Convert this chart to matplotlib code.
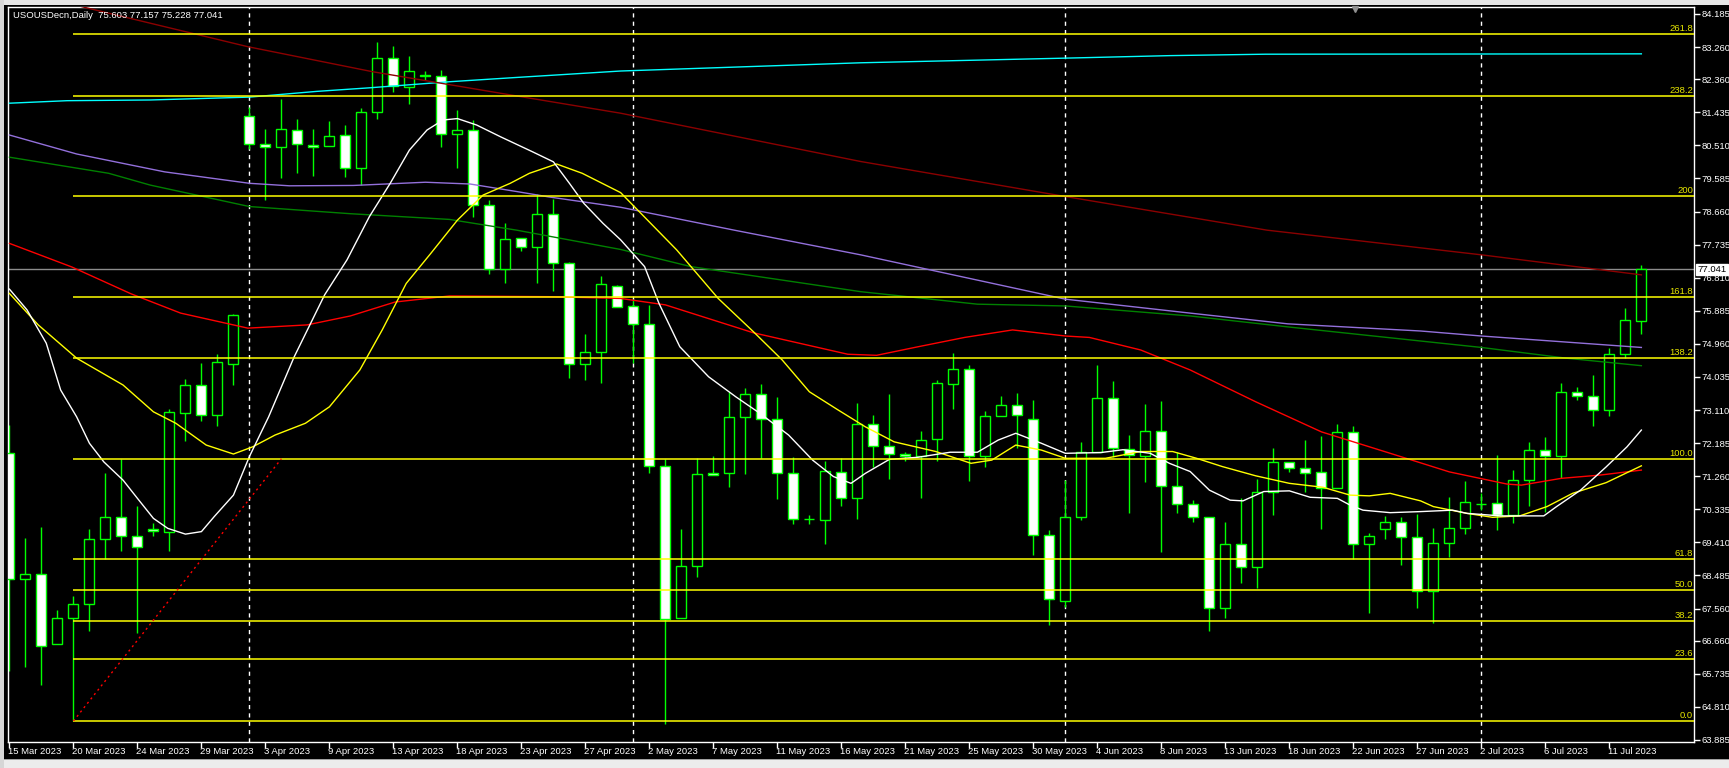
import matplotlib
matplotlib.use("Agg")
import matplotlib.pyplot as plt
from matplotlib.patches import Rectangle
from matplotlib.transforms import blended_transform_factory
import numpy as np

# ── 데이터 ───────────────────────────────────────────
OPEN = [71.90, 68.38, 68.52, 66.56, 67.29, 67.68, 69.49, 70.11, 69.59, 69.78,
        69.71, 73.04, 73.80, 72.96, 74.41, 81.32, 80.54, 80.46, 80.93, 80.53,
        80.49, 80.79, 79.87, 81.44, 82.95, 82.14, 82.44, 82.46, 80.82, 80.93,
        78.84, 77.06, 77.91, 77.67, 78.58, 77.21, 74.39, 74.72, 76.57, 76.01,
        75.51, 71.54, 67.29, 68.74, 71.34, 71.34, 72.91, 73.55, 72.85, 71.34,
        70.05, 70.03, 71.37, 70.64, 72.71, 72.10, 71.88, 71.82, 72.29, 73.83,
        74.26, 71.83, 72.93, 73.24, 72.87, 69.61, 67.78, 70.13, 71.93, 73.44,
        72.03, 71.82, 72.52, 70.98, 70.47, 70.11, 67.57, 69.36, 68.71, 70.81,
        71.67, 71.48, 71.37, 70.92, 72.49, 69.36, 69.78, 69.99, 69.55, 68.04,
        69.40, 69.80, 70.47, 70.50, 70.17, 71.15, 71.98, 71.82, 73.61, 73.49,
        73.10, 74.67, 75.603]
HIGH = [72.69, 69.52, 69.83, 67.52, 67.91, 69.78, 71.34, 71.73, 70.43, 69.96,
        73.13, 73.98, 74.42, 74.67, 75.80, 81.58, 80.97, 81.80, 81.25, 80.97,
        81.19, 81.07, 81.55, 83.39, 83.28, 83.01, 82.59, 82.62, 81.50, 81.22,
        78.98, 78.33, 77.92, 79.14, 79.00, 77.25, 75.24, 76.86, 76.61, 76.21,
        76.05, 71.73, 69.78, 71.76, 71.82, 73.61, 73.73, 73.84, 73.48, 71.79,
        70.18, 71.69, 71.76, 73.30, 72.97, 73.55, 71.94, 72.52, 73.95, 74.70,
        74.37, 73.08, 73.51, 73.58, 73.39, 69.76, 71.15, 72.21, 74.37, 73.92,
        72.41, 73.28, 73.36, 71.93, 70.59, 70.12, 69.98, 70.64, 71.18, 72.05,
        71.67, 72.27, 72.38, 72.72, 72.66, 69.66, 70.15, 70.11, 70.20, 69.80,
        70.68, 71.12, 70.80, 71.85, 71.43, 72.21, 72.36, 73.87, 73.75, 74.09,
        74.85, 75.96, 77.157]
LOW = [65.82, 65.92, 65.43, 66.56, 64.41, 66.94, 68.94, 69.18, 66.88, 69.59,
       69.18, 72.25, 72.81, 72.67, 73.82, 80.40, 78.99, 79.61, 79.75, 79.66,
       80.49, 79.63, 79.40, 81.24, 82.00, 81.66, 82.33, 80.46, 79.89, 78.52,
       76.91, 76.67, 77.57, 76.67, 76.45, 74.01, 73.96, 73.87, 75.98, 74.43,
       71.36, 64.33, 67.29, 68.45, 71.29, 70.97, 71.31, 71.78, 70.63, 69.92,
       69.92, 69.37, 70.43, 70.05, 71.52, 71.17, 71.68, 70.66, 71.69, 73.13,
       71.12, 71.52, 72.93, 72.06, 69.06, 67.11, 67.59, 70.03, 71.93, 71.80,
       70.24, 71.11, 69.15, 70.24, 69.99, 66.94, 67.30, 68.27, 68.14, 70.18,
       71.39, 70.83, 69.78, 70.92, 68.94, 67.43, 69.51, 68.77, 67.58, 67.15,
       69.01, 69.64, 70.31, 69.76, 69.96, 70.43, 70.27, 71.20, 73.40, 72.67,
       72.95, 74.56, 75.228]
CLOSE = [68.38, 68.52, 66.52, 67.29, 67.68, 69.49, 70.11, 69.59, 69.27, 69.72,
         73.05, 73.80, 72.96, 74.45, 75.76, 80.54, 80.46, 80.96, 80.54, 80.47,
         80.78, 79.87, 81.44, 82.95, 82.17, 82.58, 82.47, 80.82, 80.93, 78.84,
         77.06, 77.89, 77.68, 78.58, 77.21, 74.39, 74.72, 76.63, 76.00, 75.51,
         71.54, 67.27, 68.74, 71.31, 71.29, 72.91, 73.55, 72.85, 71.34, 70.05,
         70.07, 71.40, 70.64, 72.71, 72.10, 71.87, 71.82, 72.26, 73.86, 74.26,
         71.83, 72.94, 73.24, 72.96, 69.61, 67.82, 70.13, 71.94, 73.44, 72.04,
         71.84, 72.52, 70.98, 70.47, 70.11, 67.57, 69.36, 68.71, 70.81, 71.65,
         71.48, 71.34, 70.92, 72.49, 69.36, 69.58, 69.99, 69.55, 68.04, 69.38,
         69.80, 70.53, 70.49, 70.17, 71.15, 71.98, 71.82, 73.61, 73.49, 73.10,
         74.67, 75.62, 77.041]

DATE_LABELS = ["15 Mar 2023", "20 Mar 2023", "24 Mar 2023", "29 Mar 2023", "3 Apr 2023",
               "9 Apr 2023", "13 Apr 2023", "18 Apr 2023", "23 Apr 2023", "27 Apr 2023",
               "2 May 2023", "7 May 2023", "11 May 2023", "16 May 2023", "21 May 2023",
               "25 May 2023", "30 May 2023", "4 Jun 2023", "8 Jun 2023", "13 Jun 2023",
               "18 Jun 2023", "22 Jun 2023", "27 Jun 2023", "2 Jul 2023", "6 Jul 2023",
               "11 Jul 2023"]
DATE_BARS = list(range(0, 101, 4))
MONTH_SEP_BARS = [15, 39, 66, 92]

PRICE_TICKS = [84.185, 83.260, 82.360, 81.435, 80.510, 79.585, 78.660, 77.735, 76.810,
               75.885, 74.960, 74.035, 73.110, 72.185, 71.260, 70.335, 69.410, 68.485,
               67.560, 66.660, 65.735, 64.810, 63.885]

# 이동평균선 (bar 위치, 가격)
CYAN_X = [0, 3.6, 8.8, 15, 19.2, 22.5, 27.5, 31.7, 38.2, 53.2, 66, 72.5, 78.5, 102]
CYAN_Y = [81.69, 81.76, 81.78, 81.86, 82.02, 82.12, 82.29, 82.41, 82.59, 82.82, 82.95,
          83.02, 83.06, 83.07]
MAROON_X = [0, 7.1, 14.9, 22.7, 32, 38.2, 53.2, 66, 78.6, 92, 102]
MAROON_Y = [84.88, 84.11, 83.27, 82.57, 81.87, 81.41, 80.06, 79.08, 78.14, 77.45, 76.89]
PURPLE_X = [0, 4.2, 9.7, 15, 17.5, 21.5, 26, 28.8, 31.7, 33.7, 38.2, 45.3, 53.2, 66,
            73.8, 79.9, 88.2, 92, 102]
PURPLE_Y = [80.80, 80.27, 79.77, 79.45, 79.38, 79.39, 79.48, 79.43, 79.22, 79.07, 78.78,
            78.14, 77.45, 76.21, 75.82, 75.52, 75.32, 75.18, 74.86]
DKGREEN_X = [0, 6.2, 8.8, 15, 21.3, 27.5, 31.7, 38.2, 42.6, 53.2, 60.5, 66, 73.8, 80,
             88.2, 92, 97.3, 102]
DKGREEN_Y = [80.18, 79.73, 79.40, 78.80, 78.60, 78.44, 78.14, 77.60, 77.12, 76.42, 76.07,
             76.02, 75.74, 75.43, 75.04, 74.86, 74.56, 74.35]
RED_X = [0, 3.9, 7.6, 10.7, 14.9, 18.6, 21.3, 24.1, 27.5, 33.7, 38.2, 41, 46.5, 52.4,
         54.2, 56.8, 59.7, 62.7, 66, 67.5, 70.7, 73.8, 77.9, 82, 86.3, 90, 93.6, 94.5,
         97, 99.4, 102]
RED_Y = [77.77, 77.11, 76.36, 75.82, 75.40, 75.49, 75.74, 76.13, 76.30, 76.28, 76.23,
         76.05, 75.27, 74.67, 74.64, 74.88, 75.14, 75.35, 75.18, 75.14, 74.79, 74.23,
         73.34, 72.50, 71.90, 71.38, 71.04, 71.01, 71.20, 71.29, 71.43]
YELLOW_X = [0, 1.8, 4.2, 7.1, 9, 10.4, 12.3, 14, 15.2, 16.6, 18.5, 20, 21.9, 23.3, 24.8,
            26.3, 28, 29.6, 31.3, 32.5, 34.2, 35.8, 38.2, 41.7, 44.3, 46.5, 48.3, 50,
            51.8, 53.5, 55.3, 57.9, 60.1, 61.4, 62.9, 64.5, 66, 68.5, 70.7, 72.7, 74.2,
            75.8, 77.9, 80, 82.1, 83.8, 85, 86.3, 88.2, 89, 91.1, 92.7, 94.4, 96.1, 97.7,
            99.8, 102]
YELLOW_Y = [76.37, 75.49, 74.56, 73.81, 73.06, 72.74, 72.13, 71.88, 72.08, 72.41, 72.74,
            73.20, 74.23, 75.35, 76.65, 77.47, 78.42, 79.12, 79.45, 79.73, 79.99, 79.73,
            79.19, 77.59, 76.23, 75.30, 74.51, 73.62, 73.11, 72.64, 72.22, 71.95, 71.62,
            71.71, 72.13, 71.99, 71.76, 71.76, 71.95, 71.95, 71.76, 71.53, 71.27, 71.06,
            70.95, 70.73, 70.71, 70.78, 70.57, 70.41, 70.22, 70.11, 70.15, 70.41, 70.78,
            71.08, 71.55]
WHITE_X = [0, 1.1, 2.3, 3.2, 4.2, 5, 5.9, 7.1, 8, 9, 9.9, 11, 12, 12.8, 14, 15, 16.2,
           17.8, 19.7, 21.1, 22.5, 23.8, 25, 26.1, 27.1, 28, 29.2, 30.7, 32.7, 34, 35,
           35.9, 37.1, 38.2, 39.7, 40.6, 41.9, 43.7, 45.4, 46.9, 48.7, 50.2, 51.5, 52.6,
           53.5, 55, 56.8, 58.8, 60.5, 61.8, 62.9, 64.5, 66, 68.2, 69.6, 71.3, 72.5, 73.8,
           75, 76.3, 77.1, 78.4, 80, 81.3, 83, 83.8, 84.6, 86.3, 88.2, 90.2, 91.1, 93.2,
           95.9, 96.7, 98.2, 99.8, 101.1, 102]
WHITE_Y = [76.49, 75.91, 74.98, 73.67, 72.92, 72.18, 71.66, 71.15, 70.64, 70.08, 69.80,
           69.64, 69.71, 70.13, 70.73, 71.81, 72.92, 74.60, 76.33, 77.31, 78.52, 79.45,
           80.38, 80.94, 81.22, 81.26, 81.08, 80.75, 80.33, 80.05, 79.45, 78.89, 78.33,
           77.87, 77.12, 76.09, 74.88, 74.04, 73.48, 73.02, 72.41, 71.71, 71.25, 71.06,
           71.34, 71.73, 71.79, 71.93, 71.93, 72.27, 72.46, 72.18, 71.90, 71.92, 72.00,
           71.90, 71.62, 71.39, 70.87, 70.59, 70.57, 70.83, 70.85, 70.67, 70.64, 70.45,
           70.31, 70.24, 70.27, 70.31, 70.22, 70.15, 70.15, 70.41, 70.87, 71.52, 72.08,
           72.55]

# 피보나치 (바 4의 저점 → 고점)
FIB_LOW, FIB_HIGH = 64.414, 71.749
FIB_START, FIB_END = 4, 17
FIB_LEVELS = [0.0, 23.6, 38.2, 50.0, 61.8, 100.0, 138.2, 161.8, 200.0, 238.2, 261.8]
FIB_TEXT = ["0.0", "23.6", "38.2", "50.0", "61.8", "100.0", "138.2", "161.8", "200",
            "238.2", "261.8"]

LAST_PRICE = 77.041
HEADER = "USOUSDecn,Daily  75.603 77.157 75.228 77.041"

# ── 스타일 ─────────────────────────────────────────────────
W, H, DPI = 1729, 768, 100
FS = 6.8
GREEN = "#00ff00"
plt.rcParams["font.family"] = ["Liberation Sans", "DejaVu Sans"]

fig = plt.figure(figsize=(W / DPI, H / DPI), dpi=DPI, facecolor="black")
ax = fig.add_axes([8 / W, 26 / H, (1694 - 8) / W, (742 - 7) / H])
ax.set_facecolor("black")
for s in ax.spines.values():
    s.set_color("white"); s.set_linewidth(1.0)

n = len(OPEN)
x = np.arange(n)
o, h, l, c = map(np.asarray, (OPEN, HIGH, LOW, CLOSE))
bottom = np.minimum(o, c)
height = np.maximum(np.abs(c - o), 0.012)
face = np.where(c >= o, "black", "white")

# 심지 + 몸통
ax.vlines(x, l, h, color=GREEN, lw=1.0, zorder=2)
ax.bar(x, height, bottom=bottom, width=0.62, facecolor=face, edgecolor=GREEN,
       linewidth=1.0, zorder=3)

# 이동평균
for xs, ys, col in [(CYAN_X, CYAN_Y, "#00ffff"), (MAROON_X, MAROON_Y, "#8b0000"),
                    (PURPLE_X, PURPLE_Y, "#9370db"), (DKGREEN_X, DKGREEN_Y, "#008000"),
                    (RED_X, RED_Y, "#ff0000"), (YELLOW_X, YELLOW_Y, "#ffff00"),
                    (WHITE_X, WHITE_Y, "#ffffff")]:
    ax.plot(xs, ys, color=col, lw=1.0, zorder=4)

# 월 구분선
for b in MONTH_SEP_BARS:
    ax.axvline(b, color="white", lw=1.0, ls=(0, (3, 3)), zorder=1)

# 현재가 라인
ax.axhline(LAST_PRICE, color="#8c8c8c", lw=1.0, zorder=1.5)

# 피보나치
xlim = (-0.09, 105.29)
span = FIB_HIGH - FIB_LOW
bt = blended_transform_factory(ax.transAxes, ax.transData)
for lv, txt in zip(FIB_LEVELS, FIB_TEXT):
    yv = FIB_LOW + span * lv / 100.0
    ax.hlines(yv, FIB_START, xlim[1], color="#ffff00", lw=1.1, zorder=5)
    ax.text(0.9995, yv + 0.03, txt, transform=bt, ha="right", va="bottom",
            color="#e6e600", fontsize=FS, zorder=6)
ax.plot([FIB_START, FIB_END], [FIB_LOW, FIB_HIGH], color="#ff0000", lw=1.0,
        ls=(0, (1.5, 2.5)), zorder=5)

ax.set_xlim(*xlim)
ax.set_ylim(63.827, 84.380)

# 축
ax.yaxis.tick_right()
ax.set_yticks(PRICE_TICKS)
ax.set_yticklabels([f"{v:.3f}" for v in PRICE_TICKS])
ax.tick_params(axis="y", direction="out", length=4, width=1, colors="white",
               labelsize=FS, pad=1.5)
ax.set_xticks(DATE_BARS)
ax.set_xticklabels([])
ax.tick_params(axis="x", direction="out", length=4, width=1, colors="white")
xt = ax.get_xaxis_transform()
for b, lab in zip(DATE_BARS, DATE_LABELS):
    ax.text(b - 0.08, -0.0135, lab, transform=xt, ha="left", va="center",
            color="white", fontsize=FS, clip_on=False)

# 현재가 박스
ax.text(1.0 + 3 / 1686, LAST_PRICE, f"{LAST_PRICE:.3f}", transform=bt, ha="left",
        va="center", color="black", fontsize=FS, zorder=10, clip_on=False,
        bbox=dict(boxstyle="square,pad=0.15", facecolor="white", edgecolor="white"))

# 차트 시프트 마커
ax.plot([0.7992], [0.997], marker="v", color="#909090", markersize=5,
        transform=ax.transAxes, clip_on=False, zorder=10)

# 헤더
fig.text(13 / W, 1 - 15 / H, HEADER, color="white", fontsize=FS, va="center")

# 창 테두리
fig.patches.append(Rectangle((0, 1 - 5 / H), 1, 5 / H, transform=fig.transFigure,
                             facecolor="#e6e6e6", edgecolor="none"))
fig.patches.append(Rectangle((0, 0), 1, 8 / H, transform=fig.transFigure,
                             facecolor="#ececec", edgecolor="none"))
fig.patches.append(Rectangle((0, 8 / H), 1, 1.5 / H, transform=fig.transFigure,
                             facecolor="#a0a0a0", edgecolor="none"))
fig.patches.append(Rectangle((0, 0), 4 / W, 1, transform=fig.transFigure,
                             facecolor="#d6d6d6", edgecolor="none"))

fig.savefig("out.png", dpi=DPI, facecolor="black")
